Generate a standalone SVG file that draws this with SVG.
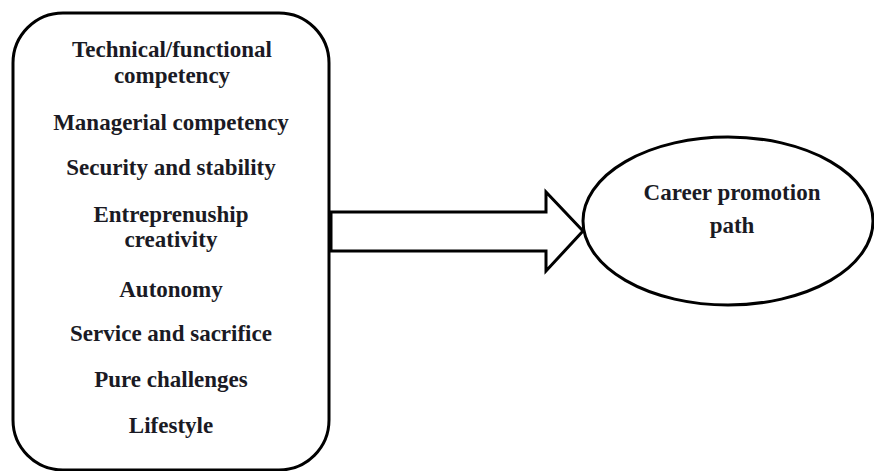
<svg xmlns="http://www.w3.org/2000/svg" width="874" height="471" viewBox="0 0 874 471">
<style>
.shape{fill:#fff;stroke:#000;stroke-width:3}
.t{font-family:"Liberation Serif","Times New Roman",serif;font-weight:bold;font-size:23px;fill:#1a1a24;text-anchor:middle}
</style>
<rect width="874" height="471" fill="#fff"/>
<g id="factors">
<rect class="shape" x="13" y="13" width="316" height="457" rx="50" ry="50"/>
<text class="t" x="172" y="57">Technical/functional</text>
<text class="t" x="172" y="83">competency</text>
<text class="t" x="171" y="130">Managerial competency</text>
<text class="t" x="171" y="175">Security and stability</text>
<text class="t" x="171" y="222">Entreprenuship</text>
<text class="t" x="171" y="247">creativity</text>
<text class="t" x="171" y="297">Autonomy</text>
<text class="t" x="171" y="341">Service and sacrifice</text>
<text class="t" x="171" y="387">Pure challenges</text>
<text class="t" x="171" y="433">Lifestyle</text>
</g>
<g id="connectors">
<polygon class="shape" points="331,212 546,212 546,192 583,231 546,271 546,251 331,251"/>
</g>
<g id="career">
<ellipse class="shape" cx="728" cy="221" rx="145" ry="84"/>
<text class="t" x="732" y="200">Career promotion</text>
<text class="t" x="732" y="233">path</text>
</g>
</svg>
